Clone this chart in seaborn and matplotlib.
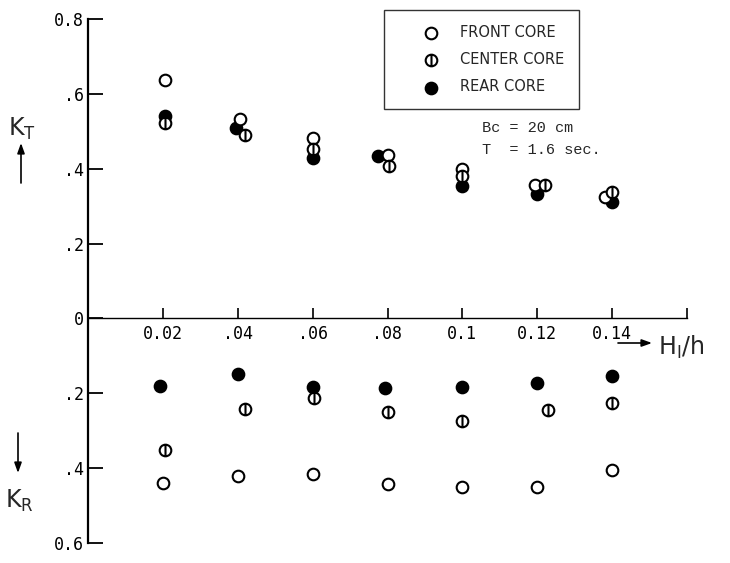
import numpy as np
import pandas as pd
import matplotlib
matplotlib.use("Agg")
import matplotlib.pyplot as plt
from matplotlib.path import Path
import seaborn as sns

# ---------------- data ----------------
cores = ["FRONT CORE", "CENTER CORE", "REAR CORE"]

# transmission coefficient K_T (upper half)
kt_front_x  = [0.0205, 0.0405, 0.0600, 0.0800, 0.1000, 0.1195, 0.1380]
kt_front    = [0.637, 0.533, 0.482, 0.436, 0.398, 0.357, 0.325]
kt_center_x = [0.0205, 0.0420, 0.0600, 0.0805, 0.1000, 0.1220, 0.1400]
kt_center   = [0.521, 0.489, 0.453, 0.408, 0.381, 0.357, 0.339]
kt_rear_x   = [0.0205, 0.0395, 0.0600, 0.0775, 0.1000, 0.1200, 0.1400]
kt_rear     = [0.540, 0.508, 0.429, 0.434, 0.353, 0.333, 0.312]

# reflection coefficient K_R (lower half, plotted downward)
kr_front_x  = [0.0200, 0.0400, 0.0600, 0.0800, 0.1000, 0.1200, 0.1400]
kr_front    = [0.440, 0.421, 0.416, 0.443, 0.450, 0.450, 0.405]
kr_center_x = [0.0205, 0.0420, 0.0605, 0.0800, 0.1000, 0.1230, 0.1400]
kr_center   = [0.352, 0.243, 0.213, 0.250, 0.275, 0.245, 0.226]
kr_rear_x   = [0.0193, 0.0400, 0.0600, 0.0793, 0.1000, 0.1200, 0.1400]
kr_rear     = [0.181, 0.149, 0.184, 0.187, 0.184, 0.173, 0.155]

x_ticks = [0.02, 0.04, 0.06, 0.08, 0.10, 0.12, 0.14, 0.16]
x_ticklabels = ["0.02", ".04", ".06", ".08", "0.1", "0.12", "0.14", ""]
y_ticks = [-0.6, -0.4, -0.2, 0.0, 0.2, 0.4, 0.6, 0.8]
y_ticklabels = ["0.6", ".4", ".2", "0", ".2", ".4", ".6", "0.8"]

# ---------------- styling ----------------
sns.set_theme(style="white")
plt.rcParams["font.family"] = ["DejaVu Sans"]
plt.rcParams["mathtext.default"] = "regular"

fig = plt.figure(figsize=(7.3, 5.63), dpi=100)
W, H = 730, 563
ax = fig.add_axes([88 / W, 1 - 543 / H, (687 - 88) / W, (543 - 19) / H])

# circle with a vertical bar for the center core
circ = Path.unit_circle()
bar = Path([[0, -1], [0, 1]], [Path.MOVETO, Path.LINETO])
center_marker = Path.make_compound_path(circ, bar)

styles = {
    "FRONT CORE": dict(marker="o", color="white", edgecolor="black"),
    "CENTER CORE": dict(marker=center_marker, color="white", edgecolor="black"),
    "REAR CORE": dict(marker="o", color="black", edgecolor="black"),
}

kt_sets = {"FRONT CORE": (kt_front_x, kt_front),
           "CENTER CORE": (kt_center_x, kt_center),
           "REAR CORE": (kt_rear_x, kt_rear)}
kr_sets = {"FRONT CORE": (kr_front_x, kr_front),
           "CENTER CORE": (kr_center_x, kr_center),
           "REAR CORE": (kr_rear_x, kr_rear)}

order = ["REAR CORE", "FRONT CORE", "CENTER CORE"]
for core in order:
    xs, ys = kt_sets[core]
    df = pd.DataFrame({"x": xs, "y": ys})
    sns.scatterplot(data=df, x="x", y="y", s=70, linewidth=1.5,
                    label=core, ax=ax, zorder=3, **styles[core])
for core in order:
    xs, ys = kr_sets[core]
    df = pd.DataFrame({"x": xs, "y": -np.asarray(ys)})
    sns.scatterplot(data=df, x="x", y="y", s=70, linewidth=1.5,
                    legend=False, ax=ax, zorder=3, **styles[core])

ax.set_xlim(0, 0.16)
ax.set_ylim(-0.6, 0.8)
ax.set_xlabel("")
ax.set_ylabel("")

for side in ["top", "right"]:
    ax.spines[side].set_visible(False)
ax.spines["bottom"].set_position(("data", 0))
ax.spines["bottom"].set_linewidth(1.0)
ax.spines["left"].set_linewidth(1.6)
for sp in ["bottom", "left"]:
    ax.spines[sp].set_color("black")

mono = "DejaVu Sans Mono"
ax.set_xticks(x_ticks)
ax.set_xticklabels(x_ticklabels, fontsize=12, family=mono)
ax.set_yticks(y_ticks)
ax.set_yticklabels(y_ticklabels, fontsize=12, family=mono)
ax.tick_params(axis="x", direction="in", length=7, width=1.2, pad=5,
               bottom=True, colors="black")
ax.tick_params(axis="y", direction="in", length=11, width=1.3, pad=3,
               left=True, colors="black")

# legend (ordered as in the reference)
handles, labels = ax.get_legend_handles_labels()
hmap = dict(zip(labels, handles))
leg = ax.legend([hmap[c] for c in cores], cores,
                loc="upper left", bbox_to_anchor=(384 / W, 1 - 10 / H),
                bbox_transform=fig.transFigure, frameon=True, fancybox=False,
                edgecolor="black", fontsize=10.5, borderpad=1.0,
                handlelength=4.45, handletextpad=-0.25, labelspacing=0.85,
                scatterpoints=1, borderaxespad=0)
leg.get_frame().set_linewidth(1.0)

# annotations
fig.text(482 / W, 1 - 128 / H, "Bc = 20 cm", family="Liberation Mono",
         fontsize=11, va="center", ha="left")
fig.text(482 / W, 1 - 150 / H, "T  = 1.6 sec.", family="Liberation Mono",
         fontsize=11, va="center", ha="left")

fig.text(8 / W, 1 - 129 / H, "$K_T$", fontsize=17, va="center", ha="left")
fig.text(5 / W, 1 - 501 / H, "$K_R$", fontsize=17, va="center", ha="left")
fig.text(658 / W, 1 - 347 / H, "$H_I/h$", fontsize=17, va="center", ha="left")

arrow = dict(arrowstyle="-|>,head_length=0.5,head_width=0.18", color="black",
             lw=1.2, shrinkA=0, shrinkB=0)
ax.annotate("", xy=(21, H - 143), xytext=(21, H - 183),
            xycoords="figure pixels", textcoords="figure pixels",
            arrowprops=arrow, annotation_clip=False)
ax.annotate("", xy=(18, H - 473), xytext=(18, H - 433),
            xycoords="figure pixels", textcoords="figure pixels",
            arrowprops=arrow, annotation_clip=False)
ax.annotate("", xy=(652, H - 343), xytext=(618, H - 343),
            xycoords="figure pixels", textcoords="figure pixels",
            arrowprops=arrow, annotation_clip=False)

fig.savefig("out.png", dpi=100, facecolor="white")
